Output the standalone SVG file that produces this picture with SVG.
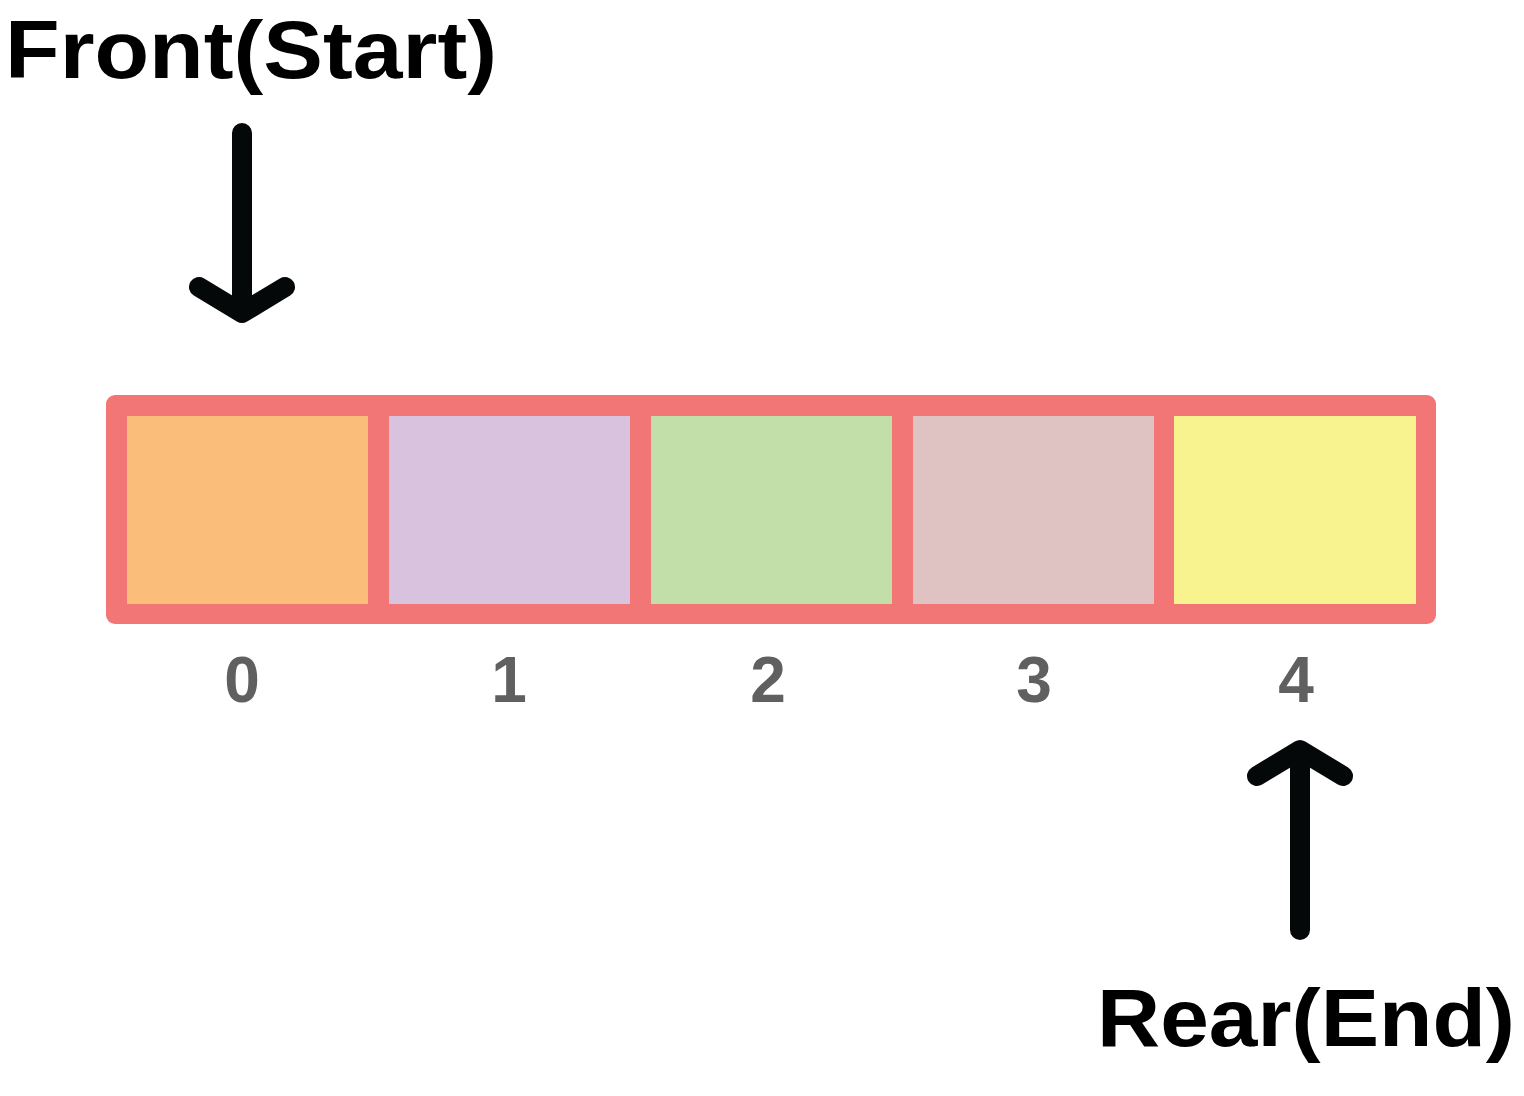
<svg xmlns="http://www.w3.org/2000/svg" width="1524" height="1096" viewBox="0 0 1524 1096">
<style>
.lbl{font-family:"Liberation Sans",Arial,sans-serif;font-weight:bold;fill:#000;font-size:82px}
.idx{font-family:"Liberation Sans",Arial,sans-serif;font-weight:bold;fill:#606060;font-size:64px;text-anchor:middle}
.arr{stroke:#050808;stroke-width:20;fill:none;stroke-linecap:round;stroke-linejoin:round}
</style>
<rect width="1524" height="1096" fill="#fff"/>
<g id="array">
<rect x="106" y="395" width="1330" height="229" rx="9" fill="#F27676"/>
</g>
<g id="cell0"><rect x="127" y="416" width="241" height="188" fill="#FABE7A"/><text class="idx" x="242" y="702">0</text></g>
<g id="cell1"><rect x="389" y="416" width="241" height="188" fill="#D8C2DE"/><text class="idx" x="509" y="702">1</text></g>
<g id="cell2"><rect x="651" y="416" width="241" height="188" fill="#C2DFA9"/><text class="idx" x="768" y="702">2</text></g>
<g id="cell3"><rect x="913" y="416" width="241" height="188" fill="#DFC2C2"/><text class="idx" x="1034" y="702">3</text></g>
<g id="cell4"><rect x="1174" y="416" width="242" height="188" fill="#F8F38F"/><text class="idx" x="1296" y="702">4</text></g>
<g id="front"><text class="lbl" x="5" y="78" textLength="492" lengthAdjust="spacingAndGlyphs">Front(Start)</text></g>
<g id="rear"><text class="lbl" x="1097" y="1046" textLength="418" lengthAdjust="spacingAndGlyphs">Rear(End)</text></g>
<g id="connectors">
<path class="arr" d="M242 133 V312 M199 287 L242 313 L285 287"/>
<path class="arr" d="M1300 930 V752 M1257 776 L1300 750 L1343 776"/>
</g>
</svg>
